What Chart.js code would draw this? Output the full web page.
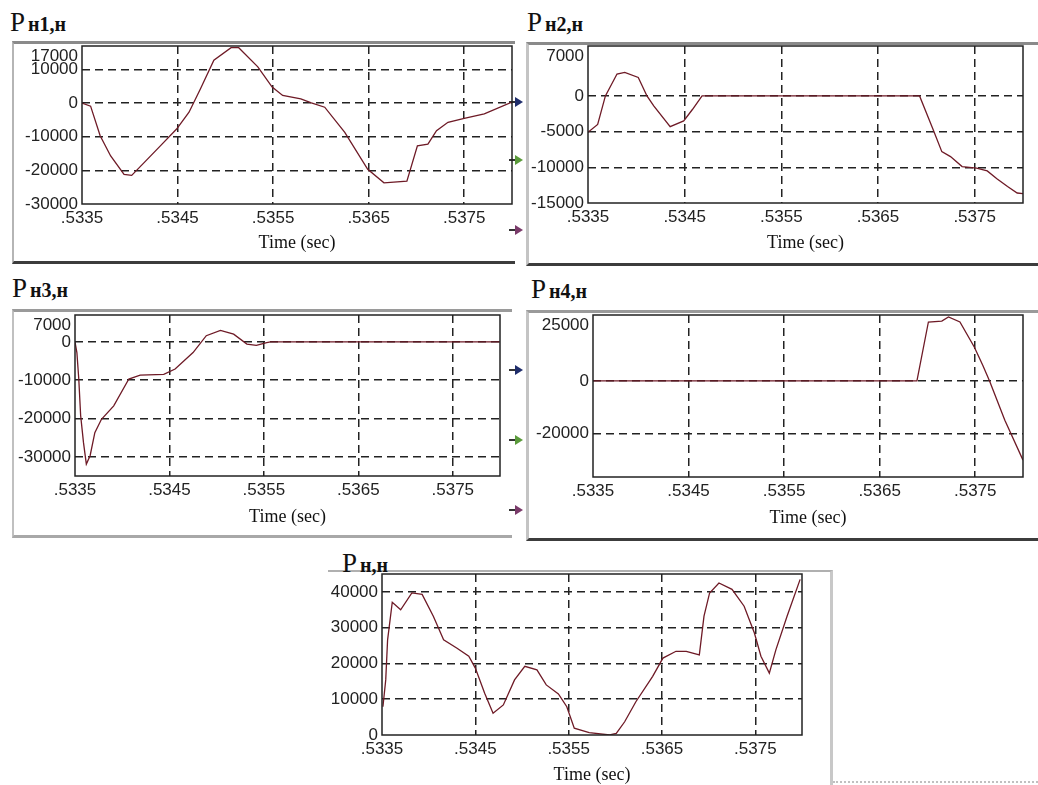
<!DOCTYPE html>
<html>
<head>
<meta charset="utf-8">
<script src="https://cdn.jsdelivr.net/npm/chart.js@4.4.0/dist/chart.umd.min.js"></script>
<style>
  body { margin: 0; width: 1038px; height: 785px; background: #fff; position: relative; overflow: hidden; }
  .panel { position: absolute; box-sizing: border-box; background: #fff; }
  .ttl { position: absolute; font: 27px/27px 'Liberation Serif', serif; color: #111; white-space: nowrap; }
  .ttl b { font-size: 20px; margin-left: 3px; }
  canvas { position: absolute; }
  .arr { position: absolute; width: 16px; height: 10px; }
  .arr::before { content: ''; position: absolute; left: 0; top: 4px; width: 8px; height: 2px; background: #333; }
  .arr::after { content: ''; position: absolute; left: 6px; top: 0; border-left: 8px solid var(--c); border-top: 5px solid transparent; border-bottom: 5px solid transparent; }
</style>
</head>
<body>

<div class="panel" style="left:12px;top:41px;width:503px;height:223px;border-top:3px solid #8a8a8a;border-left:2px solid #b5b5b5;border-bottom:3px solid #3c3c3c"></div>
<div class="panel" style="left:526px;top:42px;width:512px;height:224px;border-top:3px solid #8a8a8a;border-left:3px solid #c4c4c4;border-bottom:3px solid #3c3c3c"></div>
<div class="panel" style="left:12px;top:309px;width:500px;height:229px;border-top:3px solid #9a9a9a;border-left:2px solid #c0c0c0;border-bottom:3px solid #a8a8a8"></div>
<div class="panel" style="left:526px;top:310px;width:512px;height:231px;border-top:3px solid #9a9a9a;border-left:3px solid #c4c4c4;border-bottom:3px solid #3c3c3c"></div>
<div class="panel" style="left:328px;top:570px;width:505px;height:215px;border-top:2px solid #b0b0b0;border-right:3px solid #c8c8c8"></div>
<div style="position:absolute;left:833px;top:781px;width:205px;height:0;border-top:2px dotted #c0c0c0"></div>

<div class="ttl" style="left:10px;top:9px">P<b>н1,н</b></div>
<div class="ttl" style="left:527px;top:9px">P<b>н2,н</b></div>
<div class="ttl" style="left:12px;top:275px">P<b>н3,н</b></div>
<div class="ttl" style="left:531px;top:276px">P<b>н4,н</b></div>
<div class="ttl" style="left:342px;top:550px">P<b>н,н</b></div>

<div class="arr" style="left:509px;top:97px;--c:#1f2d6b"></div>
<div class="arr" style="left:509px;top:155px;--c:#5a9a3a"></div>
<div class="arr" style="left:509px;top:225px;--c:#7a3a6a"></div>
<div class="arr" style="left:509px;top:365px;--c:#1f2d6b"></div>
<div class="arr" style="left:509px;top:435px;--c:#5a9a3a"></div>
<div class="arr" style="left:509px;top:505px;--c:#7a3a6a"></div>

<canvas id="c1"></canvas>
<canvas id="c2"></canvas>
<canvas id="c3"></canvas>
<canvas id="c4"></canvas>
<canvas id="c5"></canvas>

<script>
// time axis (sec)
const T_MIN = 0.5335;
const T_MAX = 0.538;
const TIME_TICKS = [0.5335, 0.5345, 0.5355, 0.5365, 0.5375];

// Pн1,н
const P1_T = [0.5335, 0.53359, 0.53369, 0.5338, 0.53394, 0.53402, 0.53415, 0.53432, 0.53449, 0.53462,
              0.53474, 0.53488, 0.53506, 0.53514, 0.53534, 0.53549, 0.5356, 0.53579, 0.5359, 0.53604,
              0.53625, 0.53649, 0.53666, 0.5369, 0.53701, 0.53712, 0.53721, 0.53733, 0.5375, 0.53771, 0.538];
const P1_V = [0, -900, -9700, -15700, -21200, -21500, -17700, -12700, -7700, -2700,
              4300, 12800, 16500, 16500, 10800, 4800, 2300, 1300, 100, -1200,
              -8700, -19700, -23700, -23200, -12700, -12200, -8200, -5700, -4500, -3200, 300];
const P1_TICKS = [17000, 10000, 0, -10000, -20000, -30000];

// Pн2,н
const P2_T = [0.5335, 0.5336, 0.53368, 0.5338, 0.53388, 0.53402, 0.53411, 0.53418, 0.53435, 0.53449,
              0.53458, 0.53468, 0.53693, 0.53707, 0.53716, 0.53725, 0.53737, 0.53752, 0.53763, 0.53773,
              0.53784, 0.53794, 0.538];
const P2_V = [-5100, -4000, 0, 3070, 3300, 2600, 0, -1400, -4300, -3500,
              -1900, 0, 0, -4700, -7800, -8500, -9900, -10100, -10500, -11600,
              -12700, -13600, -13700];
const P2_TICKS = [7000, 0, -5000, -10000, -15000];

// Pн3,н
const P3_T = [0.5335, 0.53352, 0.53354, 0.53356, 0.53359, 0.53362, 0.53366, 0.53371, 0.53378, 0.53391,
              0.53407, 0.53419, 0.53444, 0.53456, 0.53475, 0.53489, 0.53504, 0.53518, 0.53532, 0.53542,
              0.53553, 0.53557, 0.538];
const P3_V = [0, -2800, -9700, -19300, -26300, -31900, -29700, -23700, -20200, -16700,
              -9700, -8700, -8500, -7100, -2800, 1600, 3000, 2000, -600, -900,
              -200, 0, 0];
const P3_TICKS = [7000, 0, -10000, -20000, -30000];

// Pн4,н
const P4_T = [0.5335, 0.53689, 0.53701, 0.53715, 0.53722, 0.53734, 0.53749, 0.53758, 0.53765, 0.53781, 0.538];
const P4_V = [0, 0, 22350, 22700, 24250, 22350, 12900, 5900, 0, -14900, -30000];
const P4_TICKS = [25000, 0, -20000];

// Pн,н
const P5_T = [0.53351, 0.53354, 0.53356, 0.53361, 0.5337, 0.53382, 0.53393, 0.53405, 0.53416, 0.5343,
              0.53443, 0.5345, 0.5346, 0.53469, 0.5348, 0.53492, 0.53503, 0.53516, 0.53526, 0.53539,
              0.53548, 0.53556, 0.53572, 0.53594, 0.53601, 0.5361, 0.53622, 0.5364, 0.53651, 0.53665,
              0.53676, 0.5369, 0.53695, 0.53701, 0.53711, 0.53725, 0.53738, 0.53749, 0.53756, 0.53765,
              0.53772, 0.53784, 0.53798];
const P5_V = [7900, 15400, 26600, 37100, 35000, 39700, 39300, 33200, 26600, 24300,
              22000, 18700, 11700, 6100, 8400, 15400, 19200, 18200, 14000, 11500,
              7900, 1900, 650, 0, 470, 3700, 9300, 16400, 21500, 23400,
              23400, 22400, 33200, 39700, 42500, 40700, 36000, 28500, 22000, 17300,
              23800, 33200, 43500];
const P5_TICKS = [40000, 30000, 20000, 10000, 0];

const Y_W = 80, PAD_T = 26, PAD_R = 12;

// box around the plot area
const frame = {
    id: 'frame',
    afterDatasetsDraw(chart) {
        const { ctx, chartArea: a } = chart;
        ctx.save();
        ctx.strokeStyle = '#222';
        ctx.lineWidth = 1.5;
        ctx.strokeRect(a.left, a.top, a.right - a.left, a.bottom - a.top);
        ctx.restore();
    }
};

function hideEdge(c) {
    if (!c.tick) return '#222';
    const v = c.tick.value;
    return (v === c.scale.min || v === c.scale.max) ? 'rgba(0,0,0,0)' : '#222';
}

function makeChart(id, xs, ys, yMin, yMax, yTicks, box, titleOff) {
    const xH = titleOff + 11;
    const cv = document.getElementById(id);
    cv.width  = box.r - box.l + Y_W + PAD_R;
    cv.height = box.b - box.t + PAD_T + xH;
    cv.style.left = (box.l - Y_W) + 'px';
    cv.style.top  = (box.t - PAD_T) + 'px';

    return new Chart(cv.getContext('2d'), {
        type: 'line',
        data: {
            datasets: [{
                data: xs.map((x, i) => ({ x: x, y: ys[i] })),
                borderColor: '#6e1a26',
                borderWidth: 1.3,
                pointRadius: 0,
                tension: 0,
                fill: false
            }]
        },
        options: {
            responsive: false,
            animation: false,
            devicePixelRatio: 1,
            layout: { padding: { top: PAD_T, right: PAD_R, left: 0, bottom: 0 } },
            plugins: { legend: { display: false }, tooltip: { enabled: false } },
            scales: {
                x: {
                    type: 'linear',
                    min: T_MIN,
                    max: T_MAX,
                    afterBuildTicks: s => { s.ticks = TIME_TICKS.map(v => ({ value: v })); },
                    afterFit: s => { s.height = xH; s.paddingLeft = 0; s.paddingRight = 0; },
                    grid: { color: hideEdge, lineWidth: 1.5, drawTicks: false },
                    border: { display: false, dash: [8, 5] },
                    ticks: {
                        autoSkip: false, maxRotation: 0, padding: 4, color: '#222',
                        font: { family: 'Liberation Sans', size: 17 },
                        callback: v => String(v).replace(/^0/, '')
                    },
                    title: {
                        display: true, text: 'Time (sec)', color: '#111',
                        padding: { top: 0, bottom: 0 },
                        font: { family: 'Liberation Serif', size: 18 }
                    }
                },
                y: {
                    type: 'linear',
                    min: yMin,
                    max: yMax,
                    afterBuildTicks: s => { s.ticks = yTicks.map(v => ({ value: v })); },
                    afterFit: s => { s.width = Y_W; s.paddingTop = 0; s.paddingBottom = 0; },
                    grid: { color: hideEdge, lineWidth: 1.5, drawTicks: false },
                    border: { display: false, dash: [8, 5] },
                    ticks: {
                        autoSkip: false, padding: 4, color: '#222',
                        font: { family: 'Liberation Sans', size: 17 },
                        // top label sits just inside the box, like the original
                        callback: v => v === yMax ? ['', String(v)] : String(v)
                    }
                }
            }
        },
        plugins: [frame]
    });
}

makeChart('c1', P1_T, P1_V, -30000, 17000, P1_TICKS, { l: 82,  t: 46,  r: 512,  b: 204 }, 39);
makeChart('c2', P2_T, P2_V, -15000, 7000,  P2_TICKS, { l: 588, t: 46,  r: 1023, b: 203 }, 40);
makeChart('c3', P3_T, P3_V, -35000, 7000,  P3_TICKS, { l: 75,  t: 315, r: 500,  b: 476 }, 41);
makeChart('c4', P4_T, P4_V, -36400, 25000, P4_TICKS, { l: 593, t: 315, r: 1023, b: 477 }, 41);
makeChart('c5', P5_T, P5_V, 0,      45000, P5_TICKS, { l: 382, t: 574, r: 802,  b: 735 }, 40);
</script>
</body>
</html>
